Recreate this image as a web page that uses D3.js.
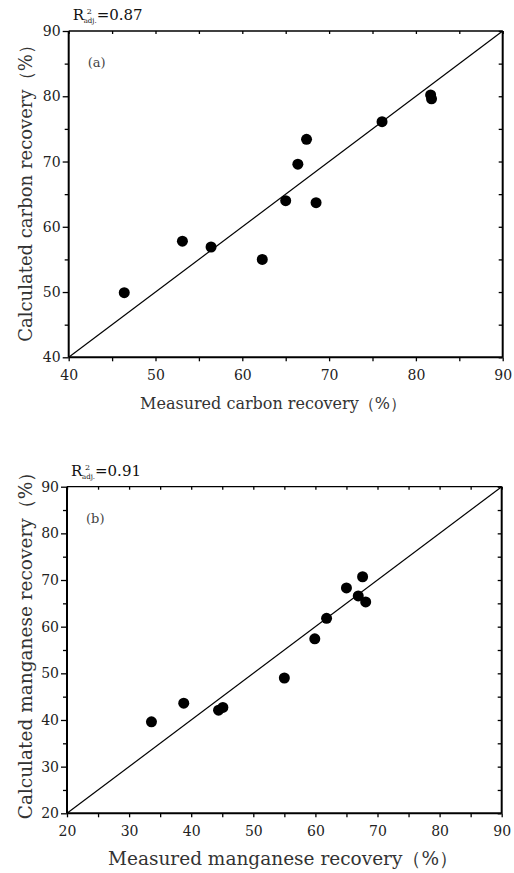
<!DOCTYPE html>
<html lang="en">
<head>
<meta charset="UTF-8">
<title>Measured vs calculated recovery</title>
<script src="https://d3js.org/d3.v7.min.js"></script>
<style>
  body { margin: 0; background: #fff; }
  svg { display: block; font-family: "DejaVu Serif", serif; }
</style>
</head>
<body>
<div id="chart"></div>
<script>
// panel (a) - carbon
var carbonMeasured   = [81.7, 81.8, 76.1, 67.4, 66.4, 65.0, 68.5, 53.1, 56.4, 62.3, 46.4];
var carbonCalculated = [80.2, 79.6, 76.1, 73.4, 69.6, 64.0, 63.7, 57.8, 56.9, 55.0, 49.9];
var carbonTicks = [40, 50, 60, 70, 80, 90];
var carbonMinor = [45, 55, 65, 75, 85];

// panel (b) - manganese
var manganeseMeasured   = [67.6, 65.0, 66.9, 68.1, 61.8, 59.9, 55.0, 38.8, 44.4, 45.1, 33.6];
var manganeseCalculated = [70.7, 68.3, 66.6, 65.3, 61.8, 57.4, 49.0, 43.6, 42.1, 42.7, 39.6];
var manganeseTicks = [20, 30, 40, 50, 60, 70, 80, 90];
var manganeseMinor = [25, 35, 45, 55, 65, 75, 85];

var W = 514, H = 873;
var svg = d3.select('#chart').append('svg')
    .attr('width', W)
    .attr('height', H);

function drawPanel(p) {
    var x = d3.scaleLinear().domain(p.domain).range([p.left, p.right]);
    var y = d3.scaleLinear().domain(p.domain).range([p.bottom, p.top]);
    var g = svg.append('g');

    // minor ticks (values every 5)
    var all = p.ticks.concat(p.minor);

    // left axis - ticks outward
    g.append('g')
        .attr('transform', 'translate(' + p.left + ',0)')
        .call(d3.axisLeft(y).tickValues(p.ticks).tickSize(6).tickPadding(2).tickFormat(d3.format('d')))
        .call(function(a){ a.select('.domain').remove(); });
    g.append('g')
        .attr('transform', 'translate(' + p.left + ',0)')
        .call(d3.axisLeft(y).tickValues(p.minor).tickSize(4).tickFormat(''))
        .call(function(a){ a.select('.domain').remove(); });

    // bottom axis - ticks outward
    g.append('g')
        .attr('transform', 'translate(0,' + p.bottom + ')')
        .call(d3.axisBottom(x).tickValues(p.ticks).tickSize(4).tickPadding(9).tickFormat(d3.format('d')))
        .call(function(a){ a.select('.domain').remove(); });
    g.append('g')
        .attr('transform', 'translate(0,' + p.bottom + ')')
        .call(d3.axisBottom(x).tickValues(p.minor).tickSize(4).tickFormat(''))
        .call(function(a){ a.select('.domain').remove(); });

    // top and right - ticks inward
    g.append('g')
        .attr('transform', 'translate(0,' + p.top + ')')
        .call(d3.axisBottom(x).tickValues(all).tickSize(3).tickFormat(''))
        .call(function(a){ a.select('.domain').remove(); });
    g.append('g')
        .attr('transform', 'translate(' + p.right + ',0)')
        .call(d3.axisLeft(y).tickValues(all).tickSize(4).tickFormat(''))
        .call(function(a){ a.select('.domain').remove(); });

    g.selectAll('.tick line').attr('stroke', '#000').attr('stroke-width', 1.3);
    g.selectAll('.tick text')
        .attr('fill', '#222')
        .style('font-size', '14px')
        .style('font-family', '"DejaVu Serif", serif');

    // frame
    g.append('line').attr('x1', p.left).attr('x2', p.right).attr('y1', p.top).attr('y2', p.top)
        .attr('stroke', '#000').attr('stroke-width', 1.3);
    g.append('line').attr('x1', p.left).attr('x2', p.right).attr('y1', p.bottom).attr('y2', p.bottom)
        .attr('stroke', '#000').attr('stroke-width', 2);
    g.append('line').attr('x1', p.left).attr('x2', p.left).attr('y1', p.top).attr('y2', p.bottom)
        .attr('stroke', '#000').attr('stroke-width', 2);
    g.append('line').attr('x1', p.right).attr('x2', p.right).attr('y1', p.top).attr('y2', p.bottom)
        .attr('stroke', '#000').attr('stroke-width', 2);

    // 1:1 line
    g.append('line')
        .attr('x1', x(p.domain[0])).attr('y1', y(p.domain[0]))
        .attr('x2', x(p.domain[1])).attr('y2', y(p.domain[1]))
        .attr('stroke', '#000').attr('stroke-width', 1.2);

    // points
    g.selectAll('circle.pt')
        .data(p.measured.map(function(d, i){ return [d, p.calculated[i]]; }))
        .enter()
        .append('circle')
        .attr('class', 'pt')
        .attr('cx', function(d){ return x(d[0]); })
        .attr('cy', function(d){ return y(d[1]); })
        .attr('r', 5.5)
        .attr('fill', '#000');

    // panel letter
    g.append('text')
        .attr('x', p.left + 19)
        .attr('y', p.top + 36)
        .attr('fill', '#444')
        .style('font-size', '13px')
        .text(p.letter);

    // R2 adj label
    var r = g.append('g').attr('transform', 'translate(' + (p.left + 4) + ',' + (p.top - 11) + ')');
    r.append('text').attr('x', 0).attr('y', 0).style('font-size', '15px').attr('fill', '#111').text('R');
    r.append('text').attr('x', 14).attr('y', -6).style('font-size', '8px').attr('fill', '#111').text('2');
    r.append('text').attr('x', 11).attr('y', 3).style('font-size', '7px').attr('fill', '#111').text('adj.');
    r.append('text').attr('x', 24).attr('y', 0).style('font-size', '15px').attr('fill', '#111').text(p.r2);

    // axis titles
    g.append('text')
        .attr('x', p.xTitleX)
        .attr('y', p.bottom + 52)
        .attr('text-anchor', 'middle')
        .attr('fill', '#333')
        .style('font-size', p.xTitleSize + 'px')
        .text(p.xTitle);
    g.append('text')
        .attr('transform', 'translate(32,' + p.yTitleY + ') rotate(-90)')
        .attr('text-anchor', 'middle')
        .attr('fill', '#333')
        .style('font-size', p.yTitleSize + 'px')
        .text(p.yTitle);
}

drawPanel({
    left: 68.7, right: 502.7, top: 31, bottom: 357.3,
    domain: [40, 90], ticks: carbonTicks, minor: carbonMinor,
    measured: carbonMeasured, calculated: carbonCalculated,
    letter: '(a)', r2: '=0.87',
    xTitle: 'Measured carbon recovery（%）', xTitleX: 273, xTitleSize: 16,
    yTitle: 'Calculated carbon recovery（%）', yTitleY: 189, yTitleSize: 18
});

drawPanel({
    left: 67, right: 501.7, top: 486.7, bottom: 813.3,
    domain: [20, 90], ticks: manganeseTicks, minor: manganeseMinor,
    measured: manganeseMeasured, calculated: manganeseCalculated,
    letter: '(b)', r2: '=0.91',
    xTitle: 'Measured manganese recovery（%）', xTitleX: 283, xTitleSize: 18.5,
    yTitle: 'Calculated manganese recovery（%）', yTitleY: 641, yTitleSize: 18.5
});
</script>
</body>
</html>
